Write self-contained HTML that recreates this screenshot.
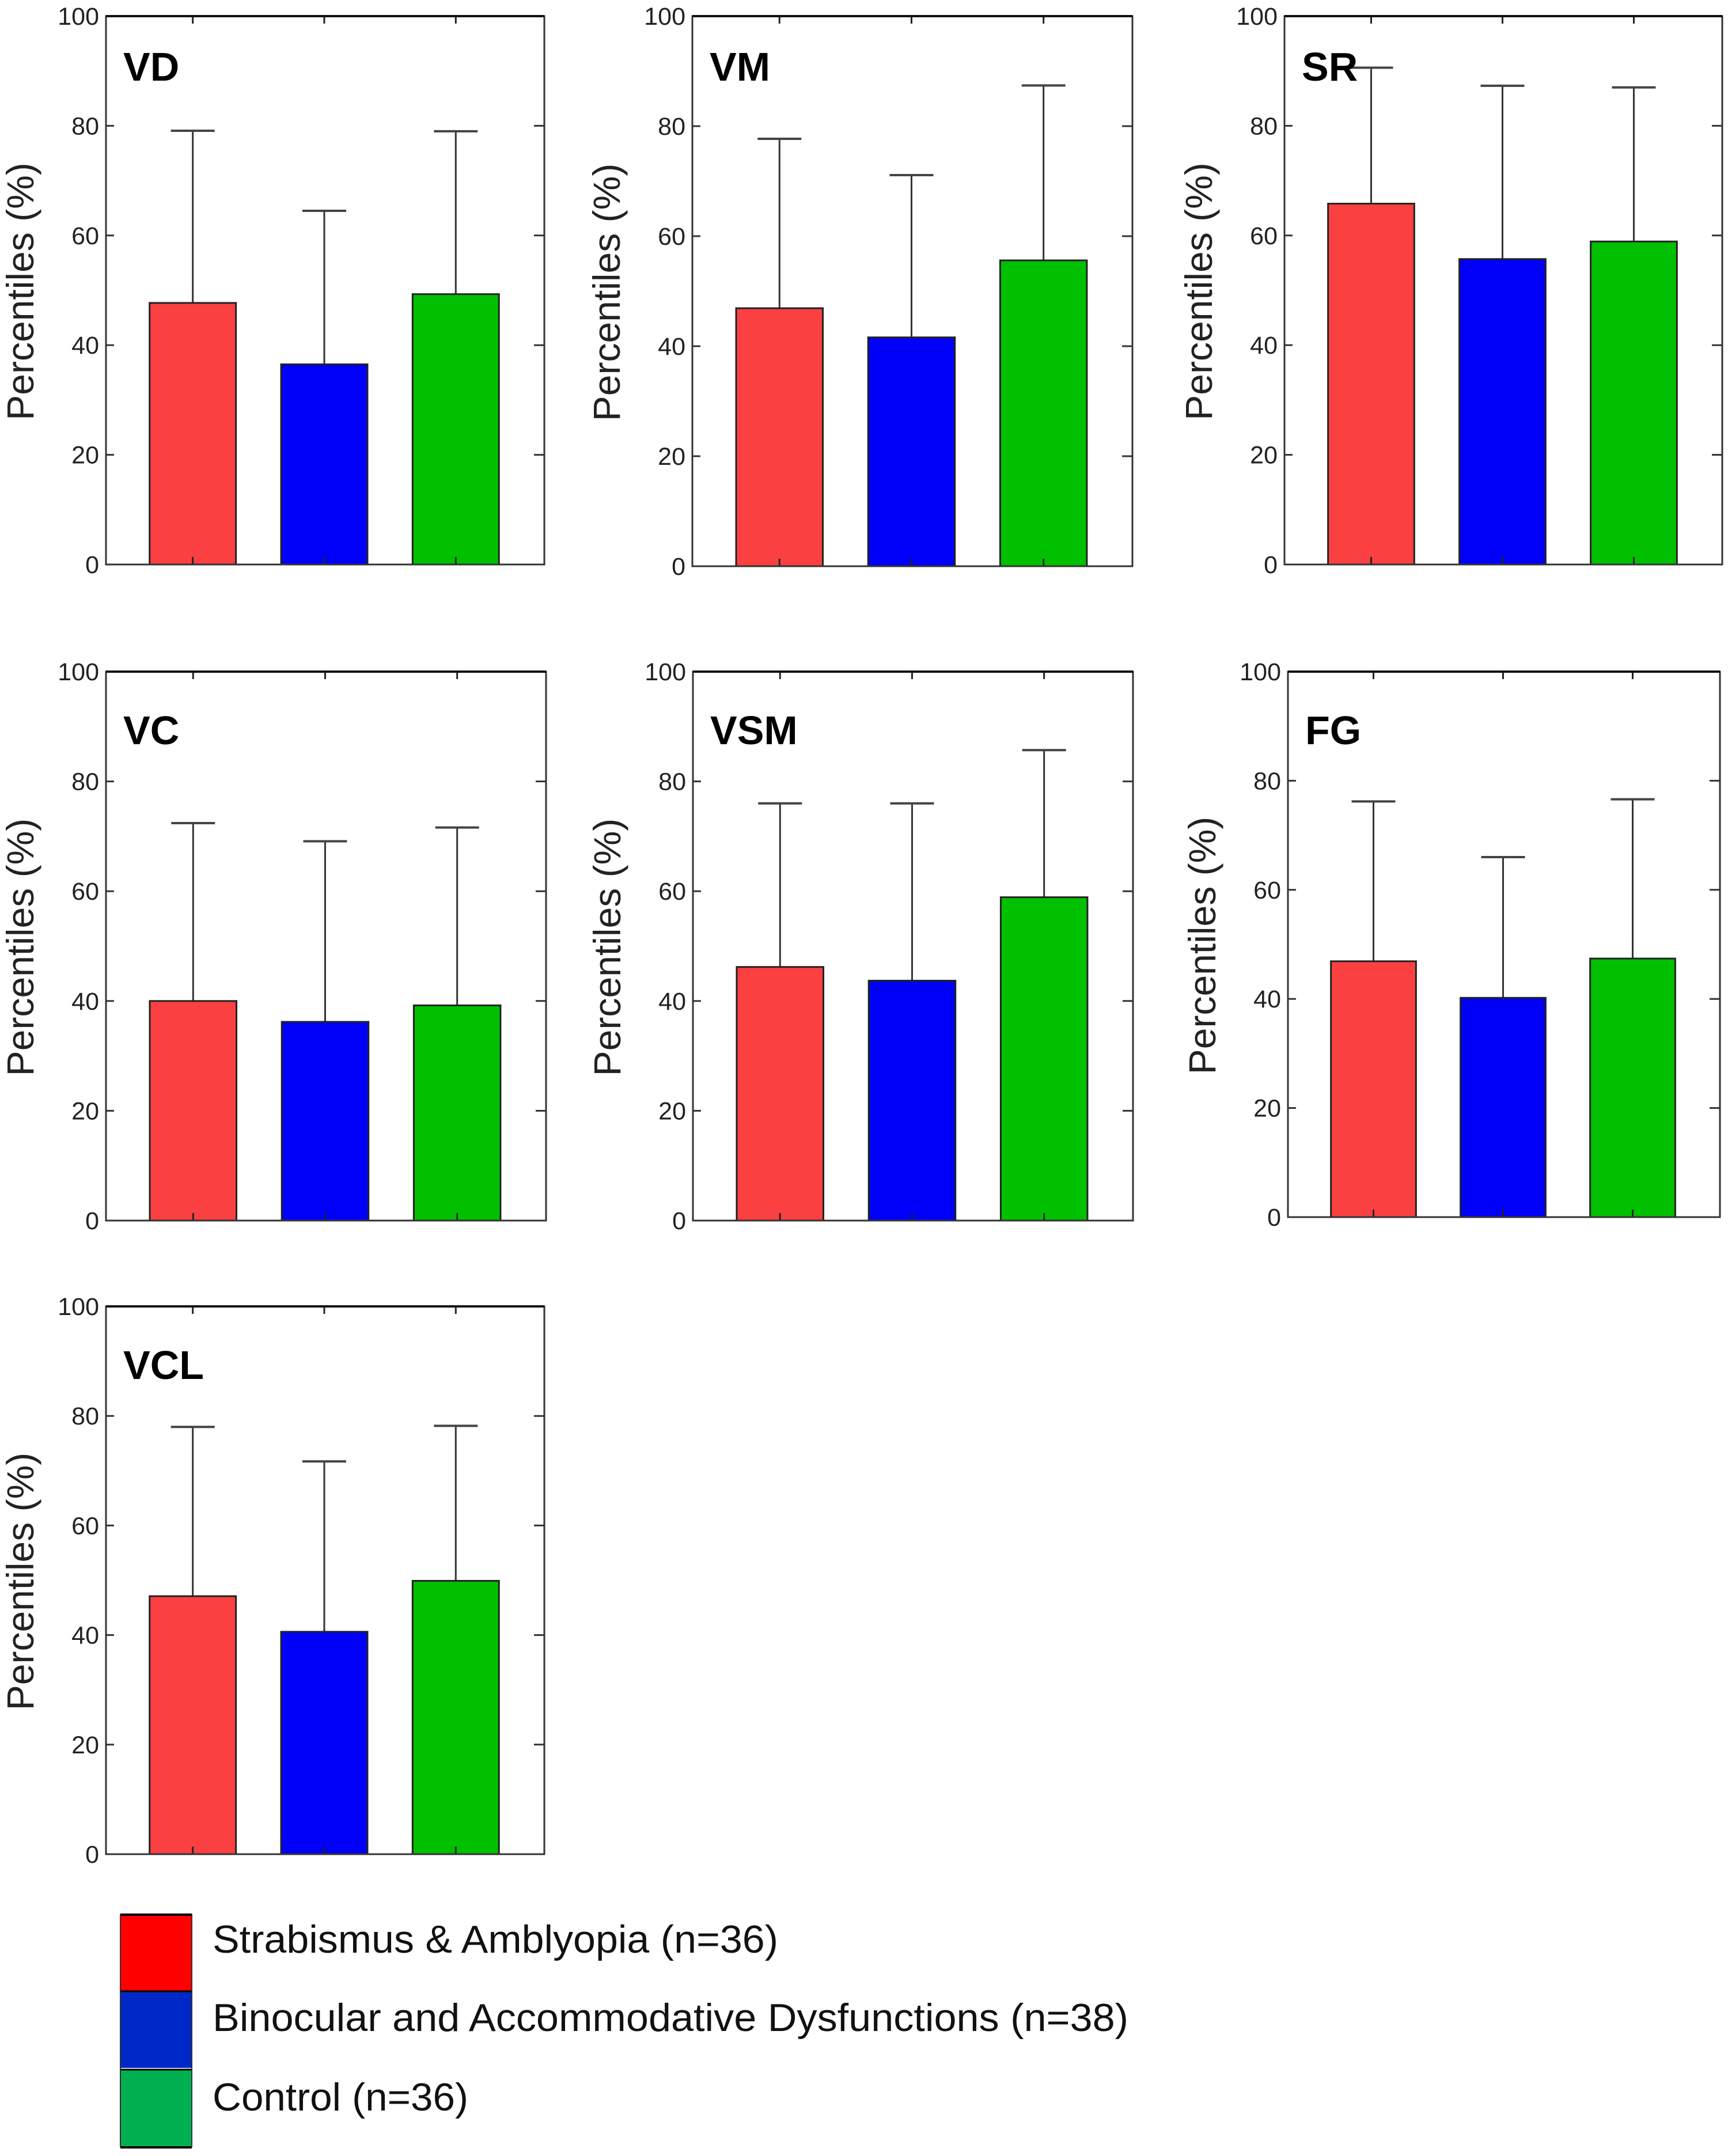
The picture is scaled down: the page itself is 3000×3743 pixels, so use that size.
<!DOCTYPE html>
<html><head><meta charset="utf-8"><style>
html,body{margin:0;padding:0;background:#fff;}
svg{display:block;font-family:"Liberation Sans",Arial,sans-serif;}
</style></head><body>
<svg id="fig" width="3000" height="3743" viewBox="0 0 3000 3743" xmlns="http://www.w3.org/2000/svg">
<rect width="3000" height="3743" fill="#fff"/>
<g id="panels"></g>
<g>
  <rect x="209" y="3323" width="124" height="134" fill="#ff0000"/>
  <rect x="209" y="3457" width="124" height="133" fill="#0028c8"/>
  <rect x="209" y="3593" width="124" height="135" fill="#00b050"/>
  <line x1="209" y1="3324" x2="333" y2="3324" stroke="#000" stroke-width="4"/>
  <line x1="209" y1="3457" x2="333" y2="3457" stroke="#000" stroke-width="3"/>
  <line x1="209" y1="3593" x2="333" y2="3593" stroke="#000" stroke-width="3"/>
  <line x1="209" y1="3728" x2="333" y2="3728" stroke="#000" stroke-width="4"/>
  <line x1="209" y1="3323" x2="209" y2="3728" stroke="#333" stroke-width="2"/>
  <line x1="333" y1="3323" x2="333" y2="3728" stroke="#333" stroke-width="2"/>
  <text x="369" y="3390" font-size="68" textLength="982" lengthAdjust="spacingAndGlyphs" fill="#111">Strabismus &amp; Amblyopia (n=36)</text>
  <text x="369" y="3526" font-size="68" textLength="1590" lengthAdjust="spacingAndGlyphs" fill="#111">Binocular and Accommodative Dysfunctions (n=38)</text>
  <text x="369" y="3664" font-size="68" textLength="444" lengthAdjust="spacingAndGlyphs" fill="#111">Control (n=36)</text>
</g>
</svg>
<script>
const panelNames = ["VD","VM","SR","VC","VSM","FG","VCL"];
const groups = ["Strabismus & Amblyopia","Binocular and Accommodative Dysfunctions","Control"];
const meanVD = [47.7, 36.5, 49.3];
const errVD  = [79.1, 64.5, 79.0];
const meanVM = [46.9, 41.6, 55.6];
const errVM  = [77.7, 71.1, 87.4];
const meanSR = [65.8, 55.7, 58.9];
const errSR  = [90.6, 87.3, 87.0];
const meanVC = [40.0, 36.2, 39.2];
const errVC  = [72.4, 69.1, 71.6];
const meanVSM = [46.2, 43.7, 58.9];
const errVSM  = [76.0, 76.0, 85.7];
const meanFG = [46.9, 40.2, 47.4];
const errFG  = [76.2, 66.0, 76.6];
const meanVCL = [47.1, 40.6, 49.9];
const errVCL  = [78.0, 71.7, 78.2];
const yTicks = [0, 20, 40, 60, 80, 100];

const means = [meanVD, meanVM, meanSR, meanVC, meanVSM, meanFG, meanVCL];
const errs = [errVD, errVM, errSR, errVC, errVSM, errFG, errVCL];
const colors = ["#fa4040", "#0000fa", "#00c000"];
const boxes = [
  [184, 28, 945, 980], [1202, 28, 1966, 983], [2230, 28, 2990, 980],
  [184, 1166, 948, 2119], [1203, 1166, 1967, 2119], [2236, 1166, 2986, 2113],
  [184, 2268, 945, 3219]
];
const labelDy = [112, 112, 112, 126, 126, 126, 126];
const NS = "http://www.w3.org/2000/svg";
const root = document.getElementById("panels");
function mk(tag, attrs, parent) {
  const e = document.createElementNS(NS, tag);
  for (const k in attrs) e.setAttribute(k, attrs[k]);
  parent.appendChild(e);
  return e;
}
panelNames.forEach((name, p) => {
  const [L, T, R, B] = boxes[p];
  const g = mk("g", {}, root);
  
  
  const W = R - L;
  const y = v => B - (B - T) * v / 100;
  const cx = i => L + W * (0.198 + 0.3 * i);
  const bw = W * 0.197;
  means[p].forEach((m, i) => {
    const top = y(m), et = y(errs[p][i]);
    const eb = mk("line", {x1: cx(i), x2: cx(i), y1: et, y2: top, stroke: "#333", "stroke-width": 3}, g);
    
    
    mk("line", {x1: cx(i) - 38, x2: cx(i) + 38, y1: et, y2: et, stroke: "#444", "stroke-width": 4}, g);
    const r = mk("rect", {x: cx(i) - bw / 2, y: top, width: bw, height: B - top, fill: colors[i], stroke: "#222", "stroke-width": 3}, g);
    
    
    mk("line", {x1: cx(i), x2: cx(i), y1: B, y2: B - 13, stroke: "#222", "stroke-width": 3}, g);
    mk("line", {x1: cx(i), x2: cx(i), y1: T, y2: T + 13, stroke: "#222", "stroke-width": 3}, g);
  });
  const f = mk("rect", {x: L, y: T, width: W, height: B - T, fill: "none", stroke: "#333", "stroke-width": 3}, g);
  
  
  mk("line", {x1: L, x2: R, y1: T, y2: T, stroke: "#111", "stroke-width": 4}, g);
  yTicks.forEach(t => {
    if (t > 0 && t < 100) {
      mk("line", {x1: L, x2: L + 14, y1: y(t), y2: y(t), stroke: "#333", "stroke-width": 3}, g);
      mk("line", {x1: R, x2: R - 18, y1: y(t), y2: y(t), stroke: "#333", "stroke-width": 3}, g);
    }
    const tx = mk("text", {x: L - 12, y: y(t) + 15, "font-size": 43, "text-anchor": "end", fill: "#222"}, g);
    tx.textContent = t;
    
    
  });
  const yt = mk("text", {x: 0, y: 0, "font-size": 66, "text-anchor": "middle", fill: "#222",
    transform: "translate(" + (L - 126) + "," + ((T + B) / 2 + 2) + ") rotate(-90)"}, g);
  yt.textContent = "Percentiles (%)";
  
  
  const lb = mk("text", {x: L + 30, y: T + labelDy[p], "font-size": 70, "font-weight": "bold", fill: "#000"}, g);
  lb.textContent = name;
  
  
});
</script>
</body></html>
